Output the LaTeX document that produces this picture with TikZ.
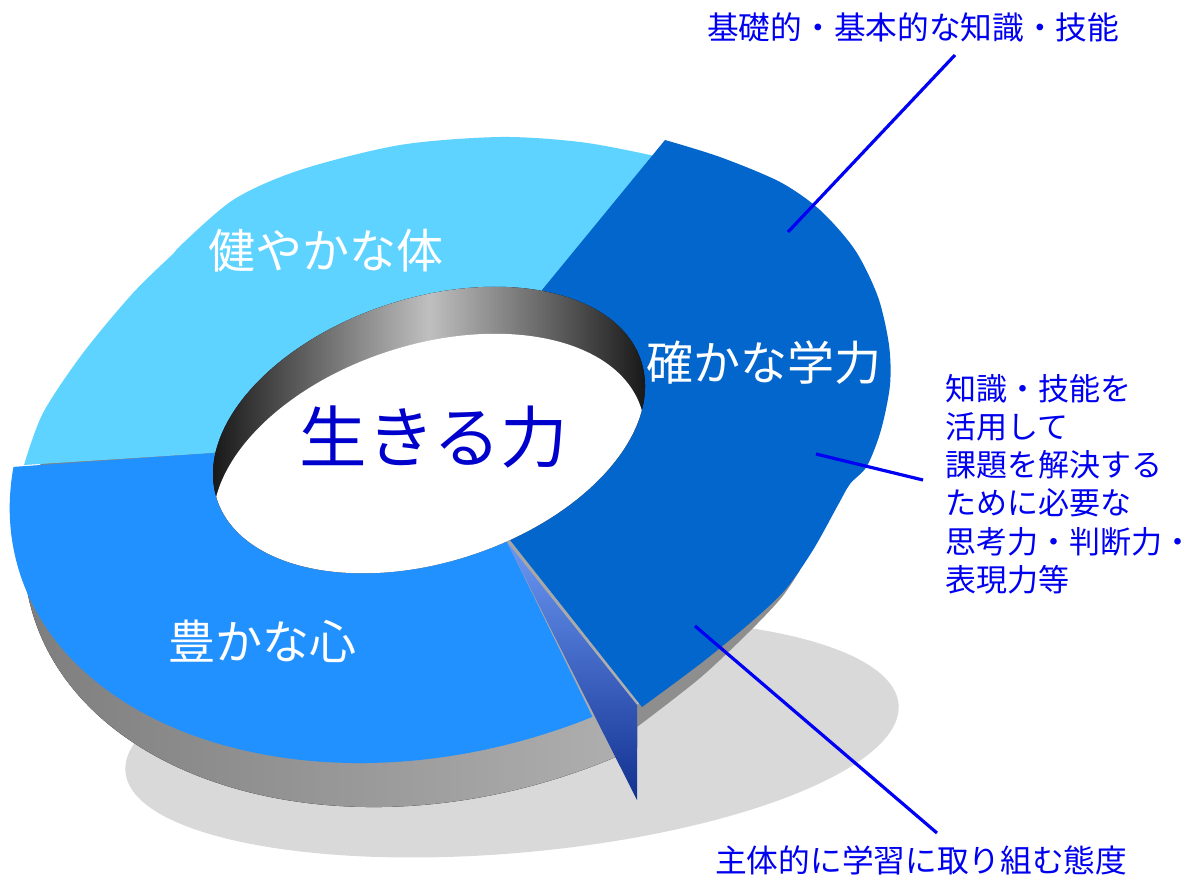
\documentclass[tikz,border=0pt]{standalone}
\usepackage{fontspec}
\setmainfont{Noto Sans CJK JP}
\definecolor{lightseg}{HTML}{5ED3FF}
\definecolor{midseg}{HTML}{2191FF}
\definecolor{darkseg}{HTML}{0366CC}
\definecolor{shadowgrey}{HTML}{D9D9D9}
\definecolor{sideL}{HTML}{7C7C7C}
\definecolor{sideR}{HTML}{B0B0B0}
\definecolor{stripgrey}{HTML}{8E8E8E}
\definecolor{faceTop}{HTML}{6B98F4}
\definecolor{faceBot}{HTML}{12308F}
\definecolor{labelblue}{HTML}{0000F0}
\definecolor{centerblue}{HTML}{0000CC}
\definecolor{leaderblue}{HTML}{0000F5}
\begin{document}
\begin{tikzpicture}[x=1pt,y=-1pt,
  seglabel/.style={text=white,font=\fontsize{47}{56}\selectfont,inner sep=0pt},
  note/.style={text=labelblue,font=\fontsize{31}{38.2}\selectfont,inner sep=0pt},
  wide note/.style={text=labelblue,font=\fontsize{31.7}{38.2}\selectfont,inner sep=0pt},
  leader/.style={draw=leaderblue,line width=3.2pt}]
\useasboundingbox (0,0) rectangle (1199,881);
% shadow
\fill[shadowgrey, rotate around={5:(512,738)}] (512,738) ellipse [x radius=388, y radius=115];
% grey side of the ring
\begin{scope}
  \clip (-10,-10) rectangle (637,900);
  \clip[rotate around={15:(454,494)}] (454,494) ellipse [x radius=438, y radius=302];
  \fill[left color=sideL, right color=sideR] (0,440) rectangle (640,870);
\end{scope}
% light blue segment
\fill[lightseg] (213,453) -- (24,465)
  -- plot[smooth] coordinates {(24,465) (43,413) (83,353) (133,293) (173,254)}
  -- (177,249)
  -- plot[smooth] coordinates {(177,249) (233,200) (300,170) (400,145) (500,137) (580,142) (650,155) (690,166)}
  -- (542,290) -- cycle;
% medium blue segment
\begin{scope}
  \clip (213,453) -- (-60,472) -- (-60,900) -- (682,900) -- (507,542) -- cycle;
  \fill[midseg, rotate around={15:(440,450)}] (440,450) ellipse [x radius=438, y radius=302];
\end{scope}
% grey strip under the dark segment
\fill[stripgrey] (637,705) -- (637,727)
  -- plot[smooth] coordinates {(637,727) (700,678) (750,631) (782,597) (800,570)}
  -- (795,566) -- cycle;
% cut face of the dark segment
\shade[top color=faceTop, bottom color=faceBot] (507,542) -- (637,705) -- (637,800) -- cycle;
% dark blue segment
\fill[darkseg] (510,540) -- (542,290) -- (665,140)
  -- plot[smooth] coordinates {(665,140) (720,157) (780,182) (820,210) (855,250) (878,297) (889,345) (890,385) (881,430) (867,466) (850,484) (838,505) (813,550) (785,590) (750,623) (700,664) (642,707)}
  -- cycle;
% hole
\begin{scope}
  \clip[rotate around={18:(429,430)}] (429,430) ellipse [x radius=223, y radius=132];
  \fill[left color=black!93, right color=black!93, middle color=black!25] (204,250) rectangle (654,600);
  \fill[white, rotate around={18:(429,477)}] (429,477) ellipse [x radius=223, y radius=132];
\end{scope}
% texts
\node[seglabel] (kenyaka) at (326,251) {健やかな体};
\node[seglabel] (tashika) at (764,363) {確かな学力};
\node[seglabel] (yutaka) at (262,641) {豊かな心};
\node[text=centerblue, font=\fontsize{67.5}{80}\selectfont, inner sep=0pt] (ikiru) at (434,437) {生きる力};
\node[wide note, anchor=west] (kiso) at (707,27) {基礎的・基本的な知識・技能};
\node[note, anchor=north west, align=left] (shiko) at (945,374) {知識・技能を\\活用して\\課題を解決する\\ために必要な\\思考力・判断力・\\表現力等};
\node[wide note, anchor=west] (shutai) at (715,860) {主体的に学習に取り組む態度};
% leaders
\coordinate (k1) at (955,55);
\coordinate (k2) at (788,232);
\coordinate (s1) at (923,480);
\coordinate (s2) at (816,454);
\coordinate (t1) at (937,833);
\coordinate (t2) at (695,626);
\draw[leader] (k1) -- (k2);
\draw[leader] (s1) -- (s2);
\draw[leader] (t1) -- (t2);
\end{tikzpicture}
\end{document}
